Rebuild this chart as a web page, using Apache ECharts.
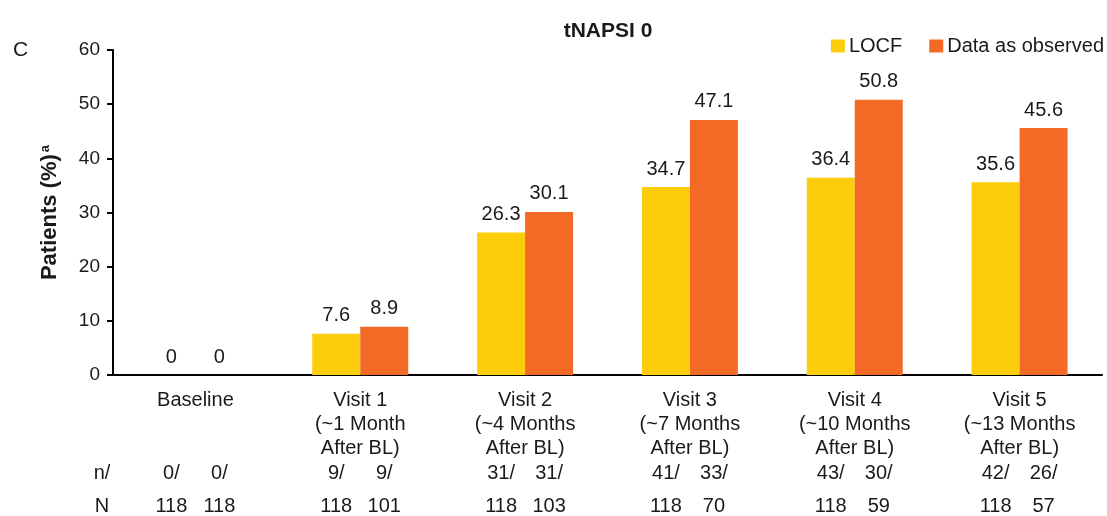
<!DOCTYPE html>
<html>
<head>
<meta charset="utf-8">
<script src="https://cdn.jsdelivr.net/npm/echarts@6/dist/echarts.min.js"></script>
<style>
  html, body { margin: 0; padding: 0; background: #fff; }
  #chart { width: 1107px; height: 516px; }
</style>
</head>
<body>
<div id="chart"></div>
<script>
// Visit categories (multi-line axis labels)
const categories = [
  'Baseline',
  'Visit 1\n(~1 Month\nAfter BL)',
  'Visit 2\n(~4 Months\nAfter BL)',
  'Visit 3\n(~7 Months\nAfter BL)',
  'Visit 4\n(~10 Months\nAfter BL)',
  'Visit 5\n(~13 Months\nAfter BL)'
];
// Percent of patients with tNAPSI 0
const locfValues = [0, 7.6, 26.3, 34.7, 36.4, 35.6];
const observedValues = [0, 8.9, 30.1, 47.1, 50.8, 45.6];
// Responder counts (n) and denominators (N) per visit
const nLocf = [0, 9, 31, 41, 43, 42];
const nObserved = [0, 9, 31, 33, 30, 26];
const bigNLocf = [118, 118, 118, 118, 118, 118];
const bigNObserved = [118, 101, 103, 70, 59, 57];
// Y-axis scale
const yMin = 0, yMax = 60, yStep = 10;

const FONT = '"Liberation Sans", Arial, sans-serif';
const TEXT = '#1a1a1a';
const YELLOW = '#FDCC0B';
const ORANGE = '#F26A26';
const BAR_W = 48;

const chart = echarts.init(document.getElementById('chart'));

const pairRich = {
  c: { width: BAR_W, align: 'center', fontSize: 20, fontFamily: FONT, color: TEXT }
};

// Extra bottom axes carrying the n/ and N rows under each bar pair
function countAxis(offset, name, left, right, suffix) {
  return {
    type: 'category',
    gridIndex: 0,
    position: 'bottom',
    offset: offset,
    data: categories,
    axisLine: { show: false },
    axisTick: { show: false },
    name: name,
    nameLocation: 'start',
    nameGap: 11,
    nameTextStyle: { fontSize: 20, fontFamily: FONT, color: TEXT, align: 'center', verticalAlign: 'middle' },
    axisLabel: {
      interval: 0,
      margin: 0,
      verticalAlign: 'middle',
      formatter: (v, i) => `{c|${left[i]}${suffix}}{c|${right[i]}${suffix}}`,
      rich: pairRich
    }
  };
}

const labelStyle = {
  show: true,
  position: 'top',
  distance: 8,
  fontSize: 20,
  fontFamily: FONT,
  color: TEXT
};

chart.setOption({
  animation: false,
  textStyle: { fontFamily: FONT },
  title: [
    {
      text: 'tNAPSI 0',
      left: 603,
      textAlign: 'center',
      top: 16,
      textStyle: { fontSize: 21, fontWeight: 'bold', fontFamily: FONT, color: TEXT }
    },
    {
      text: 'C',
      left: 8,
      top: 35,
      textStyle: { fontSize: 21, fontWeight: 'normal', fontFamily: FONT, color: TEXT }
    }
  ],
  legend: {
    right: 3,
    top: 36,
    padding: 0,
    itemWidth: 14,
    itemHeight: 13,
    itemGap: 27,
    icon: 'rect',
    textStyle: { fontSize: 20, fontFamily: FONT, color: TEXT, padding: [0, 0, 0, -1] },
    data: ['LOCF', 'Data as observed']
  },
  grid: { left: 113, right: 5, top: 50, bottom: 139, containLabel: false },
  xAxis: [
    {
      type: 'category',
      data: categories,
      axisLine: { show: true, lineStyle: { color: '#000', width: 2 } },
      axisTick: { show: false },
      axisLabel: {
        interval: 0,
        margin: 13,
        fontSize: 20,
        lineHeight: 24,
        fontFamily: FONT,
        color: TEXT,
        align: 'center'
      }
    },
    countAxis(98, 'n/', nLocf, nObserved, '/'),
    countAxis(131, 'N', bigNLocf, bigNObserved, '')
  ],
  yAxis: {
    type: 'value',
    min: yMin,
    max: yMax,
    interval: yStep,
    name: '{b|Patients (%)}{s|a}',
    nameLocation: 'middle',
    nameGap: 52,
    nameTextStyle: {
      rich: {
        b: { fontSize: 22, fontWeight: 'bold', fontFamily: FONT, color: TEXT },
        s: { fontSize: 13, fontWeight: 'bold', fontFamily: FONT, color: TEXT, verticalAlign: 'top', padding: [0, 0, 8, 2] }
      }
    },
    axisLine: { show: true, lineStyle: { color: '#000', width: 2 } },
    axisTick: { show: true, length: 6, lineStyle: { color: '#000', width: 2 } },
    splitLine: { show: false },
    axisLabel: { margin: 13, fontSize: 19, fontFamily: FONT, color: TEXT }
  },
  series: [
    {
      name: 'LOCF',
      type: 'bar',
      xAxisIndex: 0,
      data: locfValues,
      barWidth: BAR_W,
      barGap: '0%',
      itemStyle: { color: YELLOW },
      label: labelStyle
    },
    {
      name: 'Data as observed',
      type: 'bar',
      xAxisIndex: 0,
      data: observedValues,
      barWidth: BAR_W,
      barGap: '0%',
      itemStyle: { color: ORANGE },
      label: labelStyle
    }
  ]
});
</script>
</body>
</html>
